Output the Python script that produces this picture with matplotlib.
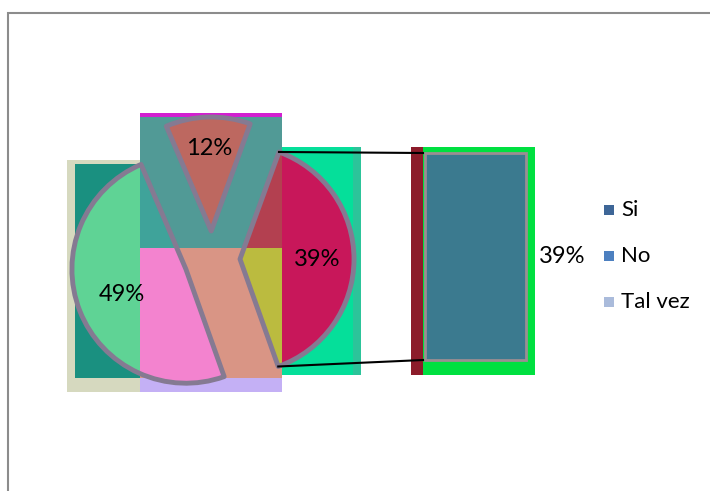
import matplotlib.pyplot as plt
from matplotlib.patches import Rectangle
from matplotlib.transforms import Bbox, TransformedBbox
import numpy as np

# datos del grafico (circular con barra)
labels = ['Si', 'No', 'Tal vez']
values = [49, 12, 39]
bar_values = [39]          # barra secundaria: Tal vez
legend_colors = ['#3e6697', '#4d80c0', '#aabbdb']

W, H = 710, 491
plt.rcParams['font.family'] = ['Lato', 'DejaVu Sans']


def py(y):
    # coordenada de pixel (desde arriba) a coordenada del eje
    return H - y


def rect(x0, y0, x1, y1, color, z=1, **kw):
    return Rectangle((x0, py(y1)), x1 - x0, y1 - y0, facecolor=color,
                     edgecolor='none', zorder=z, **kw)


fig = plt.figure(figsize=(W / 100, H / 100), dpi=100)
ax = fig.add_axes([0, 0, 1, 1])
ax.set_xlim(0, W)
ax.set_ylim(0, H)
ax.axis('off')

# borde del area del grafico
ax.add_patch(Rectangle((8, -20), W + 40, py(13) + 20, facecolor='white',
                       edgecolor='#8c8c8c', lw=1.5, zorder=0))

center = (212, py(259))
radius = 114
explode = [28, 28, 28]
start = -70.4
label_dist = [0.6, 0.72, 0.68]

# bloques de fondo (artefactos de color del original)
backgrounds = [
    (67, 160, 140, 392, '#d6d9bf'),
    (75, 164, 140, 378, '#1a9080'),
    (140, 113, 282, 117, '#d21fd0'),
    (140, 117, 282, 248, '#519a96'),
    (140, 248, 282, 378, '#d99585'),
    (140, 378, 282, 392, '#c4b0f5'),
    (282, 147, 353, 375, '#05df9a'),
    (353, 147, 361, 375, '#2cc49a'),
]
for x0, y0, x1, y1, c in backgrounds:
    ax.add_patch(rect(x0, y0, x1, y1, c, z=1))

# cada bloque pinta las porciones con su propio color
tiles = [
    ((60, 155, 140, 395), ['#5fd395', '#5fd395', '#5fd395']),
    ((140, 110, 282, 248), ['#3fa39a', '#bd6860', '#b34050']),
    ((140, 248, 282, 395), ['#f383cf', '#bd6860', '#bbbb3f']),
    ((282, 140, 370, 385), ['#c8175a', '#c8175a', '#c8175a']),
]
for (x0, y0, x1, y1), cols in tiles:
    wedges, _ = ax.pie(values, colors=cols, explode=explode, center=center,
                       radius=radius, startangle=start, counterclock=False,
                       frame=True, wedgeprops=dict(lw=0))
    box = TransformedBbox(Bbox([[x0, py(y1)], [x1, py(y0)]]), ax.transData)
    for w in wedges:
        w.set_zorder(2)
        w.set_clip_on(True)
        w.set_clip_path(None)
        w.set_clip_box(box)

# contornos y porcentajes
wedges, _, pcts = ax.pie(values, explode=explode, center=center, radius=radius,
                         startangle=start, counterclock=False, frame=True,
                         autopct='%1.0f%%', pctdistance=0.7,
                         wedgeprops=dict(facecolor='none', edgecolor='#857a92',
                                         lw=3.5, joinstyle='round'))
for w, t, d in zip(wedges, pcts, label_dist):
    w.set_zorder(3)
    mid = np.radians((w.theta1 + w.theta2) / 2)
    t.set_position((w.center[0] + d * w.r * np.cos(mid),
                    w.center[1] + d * w.r * np.sin(mid)))
    t.set_fontsize(17)
    t.set_color('black')
    t.set_zorder(5)

# barra secundaria
ax.add_patch(rect(411, 147, 423, 375, '#8c1c2a', z=1))
ax.add_patch(rect(423, 147, 535, 375, '#00e040', z=1))
bar_left, bar_right, bar_top, bar_bot = 425, 526, 153, 360
scale = (bar_bot - bar_top) / sum(bar_values)
bottom = py(bar_bot)
for v in bar_values:
    ax.bar((bar_left + bar_right) / 2, v * scale, bottom=bottom,
           width=bar_right - bar_left, color='#3b7a8f', edgecolor='#9b8e92',
           lw=2, zorder=3)
    ax.text(539, bottom + v * scale / 2, f'{v}%', fontsize=17,
            ha='left', va='center', zorder=5)
    bottom += v * scale

# lineas de union entre la porcion y la barra
tv = wedges[2]
cx, cy = tv.center
for ang, yb in [(tv.theta2, py(bar_top)), (tv.theta1, py(bar_bot))]:
    xs = cx + tv.r * np.cos(np.radians(ang))
    ys = cy + tv.r * np.sin(np.radians(ang))
    ax.plot([xs, 423], [ys, yb], color='black', lw=1.5, zorder=4)

ax.set_xlim(0, W)
ax.set_ylim(0, H)
ax.set_aspect('auto')

# leyenda
for i, (lab, col) in enumerate(zip(labels, legend_colors)):
    yc = py(210 + i * 46)
    ax.add_patch(Rectangle((604, yc - 5), 10, 10, facecolor=col,
                           edgecolor='none', zorder=5))
    ax.text(621, yc, lab, fontsize=16, va='center', ha='left', zorder=5)

fig.savefig('out.png', dpi=100)
